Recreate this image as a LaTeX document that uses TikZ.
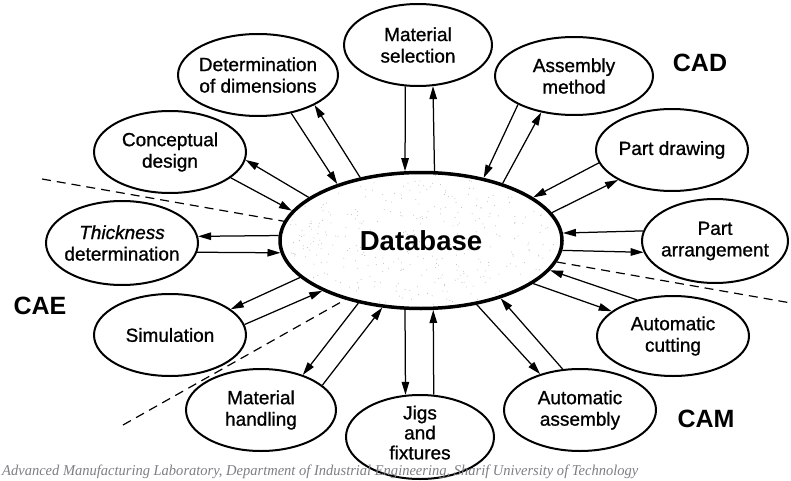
\documentclass[tikz,border=0pt]{standalone}
\usepackage{graphicx}
\usepackage{fontspec}
\setmainfont{Liberation Sans}
\newfontfamily\lblfont[FakeBold=1.0]{Liberation Sans}
\newfontfamily\footfont{Liberation Serif}
\usetikzlibrary{shapes.geometric,arrows.meta,calc}
\definecolor{footgray}{RGB}{125,125,132}

\tikzset{
  topic/.style={ellipse, draw, line width=2pt, inner xsep=-14pt, inner ysep=-6pt,
    align=center, font=\lblfont\fontsize{19}{21.5}\selectfont},
  hub/.style={ellipse, draw, line width=3.5pt, inner sep=0pt,
    font=\bfseries\fontsize{27.5}{30}\selectfont},
  link/.style={line width=1.25pt, -{Triangle[length=13pt,width=7.5pt]}},
  zone/.style={font=\bfseries\fontsize{25}{28}\selectfont, inner sep=0pt},
  divider/.style={line width=1.2pt, dash pattern=on 9pt off 6pt},
}

\begin{document}
\begin{tikzpicture}[x=1pt,y=-1pt]
\useasboundingbox (0,0) rectangle (791,481);

% stippled fill of the central database
\pgfmathsetseed{4242}
\begin{scope}
  \clip (421,240.5) ellipse [x radius=139pt, y radius=66pt];
  \foreach \k in {1,...,450}{
    \pgfmathsetmacro\px{421+140*rand}
    \pgfmathsetmacro\py{240.5+67*rand}
    \fill[gray!55] (\px,\py) circle [radius=0.5pt];
  }
\end{scope}

% central database
\node[hub, minimum width=282pt, minimum height=136pt] (db) at (421,240.5) {Database};

% surrounding activities
\node[topic, minimum width=148pt, minimum height=82pt] (ms) at (418,45)  {Material\\selection};
\node[topic, minimum width=160pt, minimum height=82pt] (dd) at (258,75)  {Determination\\of dimensions};
\node[topic, minimum width=158pt, minimum height=78pt] (am) at (574,76)  {Assembly\\method};
\node[topic, minimum width=152pt, minimum height=82pt] (cd) at (170,152) {Conceptual\\design};
\node[topic, minimum width=152pt, minimum height=82pt] (pd) at (672,150) {Part drawing};
\node[topic, minimum width=146pt, minimum height=84pt] (pa) at (715,241) {Part\\arrangement};
\node[topic, minimum width=152pt, minimum height=84pt] (td) at (122,243) {\itshape Thickness\\determination};
\node[topic, minimum width=152pt, minimum height=80pt] (ac) at (673,336) {Automatic\\cutting};
\node[topic, minimum width=152pt, minimum height=82pt] (aa) at (580,410) {Automatic\\assembly};
\node[topic, minimum width=148pt, minimum height=84pt, text depth=9pt,
      font=\lblfont\fontsize{19}{20}\selectfont] (jf) at (420,437) {Jigs\\and\\fixtures};
\node[topic, minimum width=150pt, minimum height=82pt] (mh) at (261,410) {Material\\handling};
\node[topic, minimum width=152pt, minimum height=82pt] (si) at (170,335) {Simulation};

% area labels
\node[zone] (cad) at (700,63)  {CAD};
\node[zone] (cae) at (40,306)  {CAE};
\node[zone] (cam) at (706,419) {CAM};

% two-way data flow with the database
\draw[link] (ms.-107.6) -- (db.103.3);
\draw[link] (db.79.9)   -- (ms.-70);
\draw[link] (dd.-49.9)  -- (db.146.2);
\draw[link] (db.134.8)  -- (dd.-28.4);
\draw[link] (am.-153.4) -- (db.45.7);
\draw[link] (db.35.0)   -- (am.-132.4);
\draw[link] (pd.-170.2) -- (db.21.0);
\draw[link] (db.12.3)   -- (pd.-151.9);
\draw[link] (pa.172.1)  -- (db.3.9);
\draw[link] (db.-4.7)   -- (pa.-171.3);
\draw[link] (ac.135)    -- (db.-13.5);
\draw[link] (db.-21.3)  -- (ac.158.8);
\draw[link] (db.-49.0)  -- (aa.138.7);
\draw[link] (aa.113.2)  -- (db.-36.0);
\draw[link] (db.-103.1) -- (jf.109.6);
\draw[link] (jf.72.9)   -- (db.-80.1);
\draw[link] (db.-135.2) -- (mh.40.9);
\draw[link] (mh.22.0)   -- (db.-120.9);
\draw[link] (db.-163.2) -- (si.23.9);
\draw[link] (si.8.3)    -- (db.-153.4);
\draw[link] (db.178.2)  -- (td.5.3);
\draw[link] (td.-7.6)   -- (db.185);
\draw[link] (cd.-23.4)  -- (db.167.1);
\draw[link] (db.159.9)  -- (cd.-6.3);

% dashed borders between CAD, CAE and CAM
\coordinate (cutA) at (42,179);
\coordinate (cutB) at (791,303);
\coordinate (cutC) at (123,425);
\draw[divider] (cutA) -- (db.172.3);
\draw[divider] (db.-9.5) -- (cutB);
\draw[divider] (cutC) -- (db.-142.8);

% credit line
\node[anchor=base west, inner sep=0pt, text=footgray,
      font=\footfont\itshape\fontsize{15}{17}\selectfont] (credit) at (2,475)
  {\resizebox{636pt}{\height}{Advanced Manufacturing Laboratory, Department of Industrial Engineering, Sharif University of Technology}};
\end{tikzpicture}
\end{document}
